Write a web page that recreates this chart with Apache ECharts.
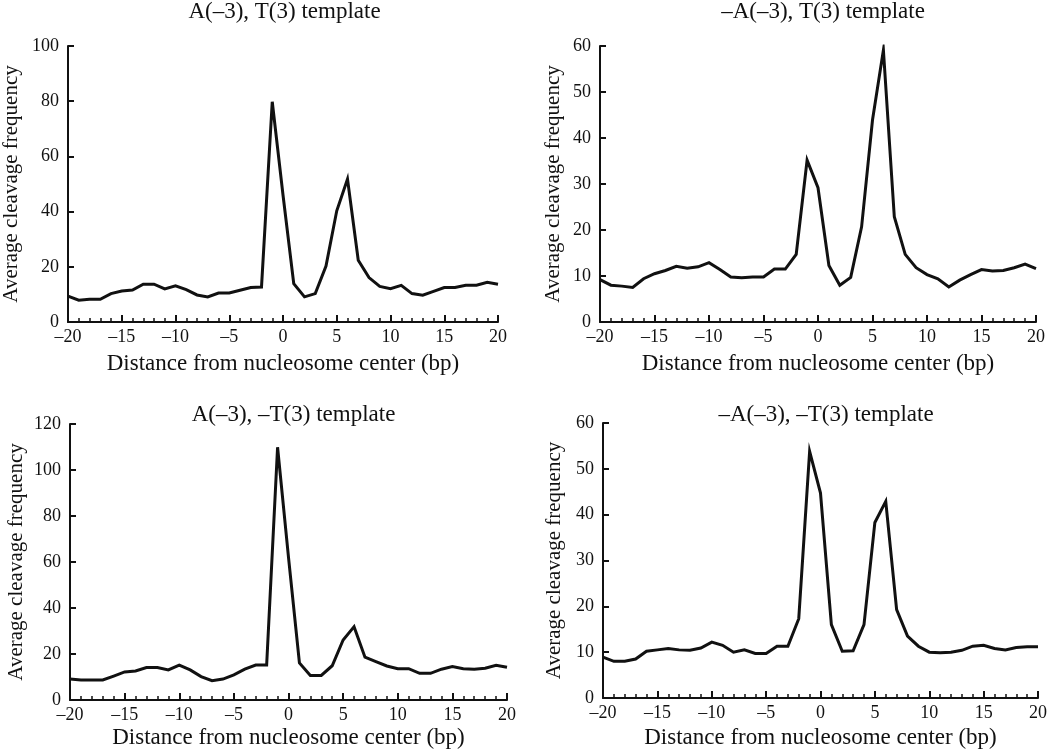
<!DOCTYPE html>
<html>
<head>
<meta charset="utf-8">
<script src="https://cdn.jsdelivr.net/npm/echarts@6/dist/echarts.min.js"></script>
<style>
html,body{margin:0;padding:0;background:#fff;}
#c{width:1050px;height:751px;}
</style>
</head>
<body>
<div id="c"></div>
<script>
// ---- data ----
const positions = [-20,-19,-18,-17,-16,-15,-14,-13,-12,-11,-10,-9,-8,-7,-6,-5,-4,-3,-2,-1,0,1,2,3,4,5,6,7,8,9,10,11,12,13,14,15,16,17,18,19,20];
const titles = ["A(\u20133), T(3) template", "\u2013A(\u20133), T(3) template", "A(\u20133), \u2013T(3) template", "\u2013A(\u20133), \u2013T(3) template"];
const seriesAT = [9.4,7.9,8.2,8.2,10.3,11.2,11.6,13.7,13.7,12.0,13.1,11.7,9.8,9.1,10.5,10.5,11.5,12.5,12.7,79.8,46,13.9,9.1,10.3,20.3,40.3,51.8,22.4,16.1,12.9,12.1,13.3,10.3,9.7,11.1,12.5,12.5,13.3,13.3,14.4,13.7];
const seriesNoAT = [9.2,8.0,7.8,7.5,9.4,10.5,11.2,12.1,11.7,12.0,12.9,11.4,9.8,9.6,9.8,9.8,11.5,11.5,14.7,35.2,29.2,12.3,8.0,9.7,20.7,43.9,59.1,22.9,14.7,11.8,10.3,9.4,7.6,9.1,10.3,11.4,11.1,11.2,11.8,12.6,11.6];
const seriesANoT = [9.1,8.7,8.7,8.7,10.4,12.2,12.6,14.1,14.1,13.1,15.2,13.1,10.2,8.4,9.1,10.9,13.4,15.2,15.2,109.9,62,16.1,10.7,10.7,14.9,26.1,31.9,18.6,16.7,14.8,13.6,13.6,11.6,11.6,13.4,14.5,13.6,13.4,13.8,15.1,14.2];
const seriesNoANoT = [8.9,8.0,8.0,8.5,10.2,10.5,10.8,10.5,10.4,10.9,12.2,11.5,10.0,10.5,9.7,9.7,11.3,11.3,17.3,53.8,44.7,16.0,10.2,10.3,16.0,38.3,42.9,19.3,13.5,11.3,10.0,9.9,10.0,10.4,11.3,11.5,10.8,10.5,11.0,11.2,11.2];
const yMax = [100, 60, 120, 60];
const yStep = [20, 10, 20, 10];
const xTitle = "Distance from nucleosome center (bp)";
const yTitle = "Average cleavage frequency";

// ---- layout ----
const FONT = '"Liberation Serif","DejaVu Serif",serif';
const grids = [
  {left:61, top:46, width:437, height:276},
  {left:600, top:46, width:436, height:276},
  {left:70, top:424, width:437, height:276},
  {left:603, top:423, width:436, height:275}
];
const yNameGap = [46, 36, 43, 38];
const xNameGap = [30, 30, 26, 28];
const titleTops = [-5, -5, 398, 398];
const allSeries = [seriesAT, seriesNoAT, seriesANoT, seriesNoANoT];

const fmt = v => String(v).replace('-', '\u2013');

const option = {
  backgroundColor: '#fff',
  animation: false,
  title: grids.map((g,i)=>({
    text: titles[i],
    left: g.left + g.width/2,
    textAlign: 'center',
    top: titleTops[i],
    textStyle: {fontFamily: FONT, fontSize: 23, fontWeight: 'normal', color: '#111'}
  })),
  grid: grids.map(g=>Object.assign({containLabel:false}, g)),
  xAxis: grids.map((g,i)=>({
    type: 'value', gridIndex: i, min: -20, max: 20, interval: 5,
    name: xTitle, nameLocation: 'middle', nameGap: xNameGap[i],
    nameTextStyle: {fontFamily: FONT, fontSize: 23, color: '#111'},
    axisLine: {show: true, onZero: false, lineStyle: {color: '#111', width: 2}},
    axisTick: {show: true, inside: true, length: 7, lineStyle: {color: '#111', width: 2}},
    minorTick: {show: true, splitNumber: 5, length: 4, lineStyle: {color: '#111', width: 1.5}},
    splitLine: {show: false},
    axisLabel: {fontFamily: FONT, fontSize: 18, color: '#111', margin: 6, formatter: fmt}
  })),
  yAxis: grids.map((g,i)=>({
    type: 'value', gridIndex: i, min: 0, max: yMax[i], interval: yStep[i],
    name: yTitle, nameLocation: 'middle', nameGap: yNameGap[i], nameRotate: 90,
    nameTextStyle: {fontFamily: FONT, fontSize: 21, color: '#111'},
    axisLine: {show: true, onZero: false, lineStyle: {color: '#111', width: 2}},
    axisTick: {show: true, inside: true, length: 6, lineStyle: {color: '#111', width: 2}},
    splitLine: {show: false},
    axisLabel: {fontFamily: FONT, fontSize: 18, color: '#111', margin: 9}
  })),
  series: allSeries.map((s,i)=>({
    type: 'line', xAxisIndex: i, yAxisIndex: i,
    data: positions.map((x,k)=>[x, s[k]]),
    showSymbol: false, symbol: 'none',
    lineStyle: {color: '#111', width: 3, join: 'miter'}
  }))
};
const chart = echarts.init(document.getElementById('c'), null, {renderer: 'canvas'});
chart.setOption(option);
</script>
</body>
</html>
